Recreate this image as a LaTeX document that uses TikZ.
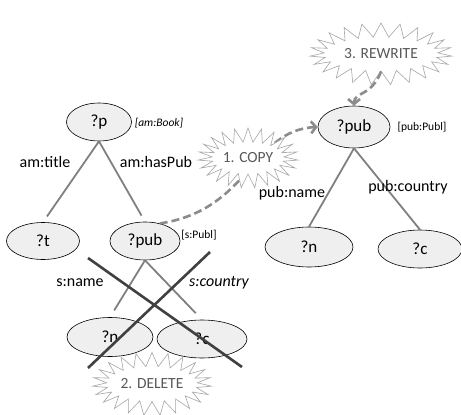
\documentclass[tikz,border=0pt]{standalone}
\usepackage{fontspec}
\setmainfont{Carlito}
\usetikzlibrary{shapes.geometric,shapes.symbols,arrows.meta}
\definecolor{nodefill}{HTML}{EFEFEF}
\definecolor{edgegray}{HTML}{808080}
\definecolor{flowgray}{HTML}{8C8C8C}
\definecolor{crossgray}{HTML}{404040}
\definecolor{burstline}{HTML}{A6A6A6}
\definecolor{bursttext}{HTML}{595959}
\begin{document}
\begin{tikzpicture}[x=1pt,y=-1pt,
  var/.style={ellipse,draw=black,line width=0.6pt,fill=nodefill,inner sep=0pt,
    font=\fontsize{17}{19}\selectfont},
  lbl/.style={inner sep=0pt,font=\fontsize{16}{18}\selectfont},
  typ/.style={inner sep=0pt,font=\fontsize{11.5}{13}\selectfont},
  edge/.style={draw=edgegray,line width=1.8pt},
  flow/.style={draw=flowgray,line width=2.6pt,dash pattern=on 8pt off 4pt,
    -{Straight Barb[length=5pt,width=12pt]}},
  cross/.style={draw=crossgray,line width=2.6pt},
  burst/.style={starburst,starburst points=23,starburst point height=14pt,
    random starburst=0,draw=burstline,line width=0.6pt,fill=white,
    text=bursttext,inner sep=0pt,font=\fontsize{15.5}{17}\selectfont}
]
\path[use as bounding box,fill=white] (0,0) rectangle (461,415);

% source graph
\node[var,minimum width=65pt,minimum height=38pt] (p) at (99,122) {?p};
\node[var,minimum width=73pt,minimum height=37pt] (t) at (43,241) {?t};
\node[var,minimum width=70pt,minimum height=38pt] (pubL) at (145,241) {?pub};
\node[var,minimum width=86pt,minimum height=39pt] (nL) at (110,337) {?n};
\node[var,minimum width=90pt,minimum height=38pt] (cL) at (202,339) {?c};

% target graph
\node[var,minimum width=72pt,minimum height=42pt] (pubR) at (354,127) {?pub};
\node[var,minimum width=88pt,minimum height=40pt] (nR) at (309,247) {?n};
\node[var,minimum width=84pt,minimum height=38pt] (cR) at (420,249) {?c};

% type annotations
\node[typ,font=\fontsize{11.5}{13}\selectfont\itshape] (tBook) at (159,123) {[am:Book]};
\node[typ] (tsPubl) at (199,235) {[s:Publ]};
\node[typ] (tpubPubl) at (422,127) {[pub:Publ]};

% property edges
\draw[edge,shorten >=7pt] (p.south) -- (t.north);
\draw[edge,shorten >=7pt] (p.south) -- (pubL.north);
\draw[edge,shorten >=8pt] (pubL.south) -- (nL.north);
\draw[edge,shorten >=9pt] (pubL.south) -- (cL.north);
\draw[edge] (pubR.south) -- (nR.north);
\draw[edge] (pubR.south) -- (cR.north);

\node[lbl] (lTitle) at (45,162) {am:title};
\node[lbl] (lHasPub) at (156,162) {am:hasPub};
\node[lbl] (lsName) at (80,283) {s:name};
\node[lbl,font=\fontsize{16}{18}\selectfont\itshape] (lsCountry) at (219,283) {s:country};
\node[lbl] (lpName) at (292,193) {pub:name};
\node[lbl] (lpCountry) at (408,187) {pub:country};

% deleted branch
\draw[cross] (88,258) -- (242,367);
\draw[cross] (210,252) -- (88,368);

% operations
\draw[flow] (pubL.50) .. controls (250,210) and (252,130) .. (pubR.west);
\node[burst,minimum width=100pt,minimum height=60pt] (copy) at (248,158) {1. COPY};
\node[burst,minimum width=119pt,minimum height=63pt] (delete) at (152,384) {2. DELETE};
\node[burst,minimum width=142pt,minimum height=62pt] (rewrite) at (381,54) {3. REWRITE};
\draw[flow] (rewrite.south) .. controls (372,96) and (354,92) .. (pubR.north);
\end{tikzpicture}
\end{document}
